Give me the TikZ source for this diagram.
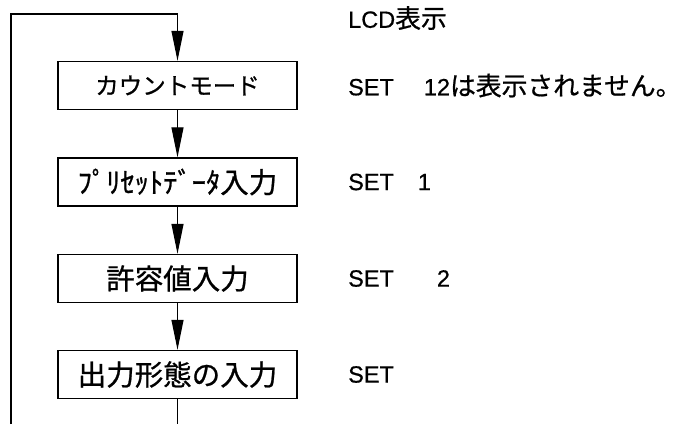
\documentclass[tikz,border=0pt]{standalone}
\usepackage{fontspec}
\setmainfont{Liberation Sans}[FakeBold=0.6]
\newfontfamily\jp{Noto Sans CJK JP}[FakeBold=0.8]
\usetikzlibrary{arrows.meta}
\tikzset{
  boxnode/.style={draw, line width=1.4pt, minimum width=239pt, minimum height=48pt, inner sep=0pt, font=\jp\fontsize{28.5}{30}\selectfont},
  flow/.style={line width=1.1pt},
  arr/.style={line width=1.1pt, -{Triangle[length=30pt,width=12pt]}},
  lbl/.style={anchor=west, inner sep=0pt, font=\fontsize{23.5}{26}\selectfont}
}
\newcommand\jpr{\jp\fontsize{25.8}{28}\selectfont}
\begin{document}
\begin{tikzpicture}[x=1pt,y=-1pt]
\useasboundingbox (0,0) rectangle (685,424);
\fill[white] (0,0) rectangle (685,424);
\node[boxnode, font=\jp\fontsize{23.5}{26}\selectfont] (n1) at (177.5,85.5) {カウントモード};
\node[boxnode] (n2) at (177.5,182) {ﾌﾟﾘｾｯﾄﾃﾞｰﾀ入力};
\node[boxnode] (n3) at (177.5,278.5) {許容値入力};
\node[boxnode] (n4) at (177.5,374.5) {出力形態の入力};
\coordinate (bl) at (11,424);
\coordinate (tl) at (11,14);
\coordinate (tr) at (177.5,14);
\coordinate (b4) at (177.5,424);
\draw[flow] (bl) -- (tl) -- (tr);
\draw[arr] (tr) -- (n1.north);
\draw[arr] (n1.south) -- (n2.north);
\draw[arr] (n2.south) -- (n3.north);
\draw[arr] (n3.south) -- (n4.north);
\draw[flow] (n4.south) -- (b4);
\node[lbl] (t0) at (348,18) {LCD{\jpr 表示}};
\node[lbl] (t1) at (348,85.5) {SET\hspace{30pt}12{\jpr は表示されません。}};
\node[lbl] (t2) at (348,182) {SET\hspace{24pt}1};
\node[lbl] (t3) at (348,278.5) {SET\hspace{43pt}2};
\node[lbl] (t4) at (348,374.5) {SET};
\end{tikzpicture}
\end{document}
